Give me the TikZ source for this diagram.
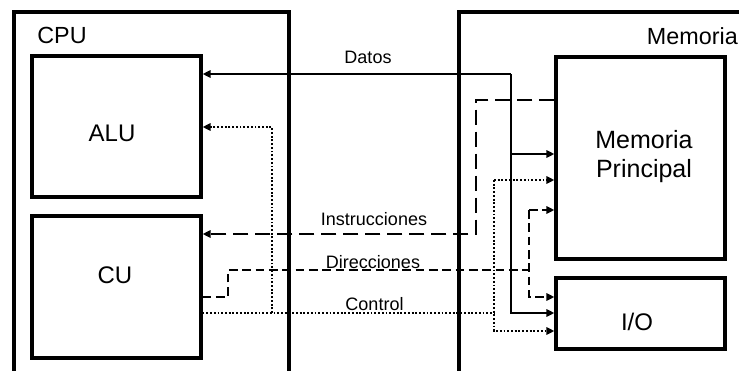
\documentclass[tikz,border=0pt]{standalone}
\usepackage{fontspec}
\setmainfont{Liberation Sans}
\usetikzlibrary{arrows.meta}
\tikzset{
  unitbox/.style={draw, line width=2.4pt, minimum width=169*0.75pt, inner sep=0pt},
  frame/.style={line width=2.4pt},
  bigtxt/.style={anchor=base, inner sep=0pt, font=\fontsize{18pt}{21pt}\selectfont},
  bustxt/.style={anchor=base, inner sep=0pt, font=\fontsize{13.5pt}{16pt}\selectfont},
  bus/.style={line width=1.5pt},
  tip/.style={-{Triangle[length=6pt,width=5.5pt]}},
  datos/.style={bus},
  instr/.style={bus, dash pattern=on 11.5pt off 5pt},
  direc/.style={bus, dash pattern=on 6.5pt off 3.5pt},
  ctrl/.style={line width=1.6pt, dash pattern=on 1.4pt off 1.4pt},
}
\begin{document}
\begin{tikzpicture}[x=0.75pt, y=-0.75pt]
\useasboundingbox (0,0) rectangle (739,371);

% enclosing frames (open at the bottom)
\draw[frame] (14,371) |- (289,12) -- (289,371);
\draw[frame] (459,371) |- (739,12);
\node[bigtxt, font=\fontsize{17.5pt}{20pt}\selectfont] (cpulbl) at (62,43) {CPU};
\node[bigtxt, font=\fontsize{17.5pt}{20pt}\selectfont, anchor=base east] (memlbl) at (738,44) {Memoria};

% functional units
\node[unitbox, minimum height=141*0.75pt] (alu) at (116.5,126.5) {};
\node[unitbox, minimum height=142*0.75pt] (cu)  at (116.5,287) {};
\node[unitbox, minimum height=202*0.75pt] (mp)  at (640.5,158) {};
\node[unitbox, minimum height=71*0.75pt]  (io)  at (640.5,313.5) {};

\node[bigtxt] (alulbl) at (112,141) {ALU};
\node[bigtxt] (culbl) at (115,283) {CU};
\node[bigtxt, font=\fontsize{18.75pt}{22pt}\selectfont] (mplbl1) at (644,148) {Memoria};
\node[bigtxt, font=\fontsize{18.75pt}{22pt}\selectfont] (mplbl2) at (644,177) {Principal};
\node[bigtxt] (iolbl) at (637,330) {I/O};

% junction points of the buses
\coordinate (d1) at (511,74);
\coordinate (d2) at (511,154);
\coordinate (d3) at (511,313);
\coordinate (i1) at (476,100);
\coordinate (i2) at (476,234);
\coordinate (a1) at (228,297);
\coordinate (a2) at (228,270);
\coordinate (a3) at (529,270);
\coordinate (a4) at (529,210);
\coordinate (a5) at (529,297);
\coordinate (c1) at (272,313);
\coordinate (c2) at (272,127);
\coordinate (c3) at (494,313);
\coordinate (c4) at (494,180);
\coordinate (c5) at (494,331);

% data bus
\draw[datos, tip] (d1) -- (alu.east |- d1);
\draw[datos, tip] (d1) -- (d3) -- (io.west |- d3);
\draw[datos, tip] (d2) -- (mp.west |- d2);

% instruction bus
\draw[instr, tip] (mp.west |- i1) -- (i1) -- (i2) -- (alu.east |- i2);

% address bus
\draw[direc] (cu.east |- a1) -- (a1) -- (a2) -- (a3);
\draw[direc, tip] (a4) -- (mp.west |- a4);
\draw[direc, tip] (a4) -- (a5) -- (io.west |- a5);

% control bus
\draw[ctrl] (cu.east |- c1) -- (c3);
\draw[ctrl, tip] (c1) -- (c2) -- (alu.east |- c2);
\draw[ctrl, tip] (c4) -- (mp.west |- c4);
\draw[ctrl, tip] (c4) -- (c5) -- (io.west |- c5);

% bus names
\node[bustxt] (ldatos) at (368,63) {Datos};
\node[bustxt] (linstr) at (374,225) {Instrucciones};
\node[bustxt] (ldirec) at (373,268) {Direcciones};
\node[bustxt] (lctrl) at (374.5,310) {Control};
\end{tikzpicture}
\end{document}
